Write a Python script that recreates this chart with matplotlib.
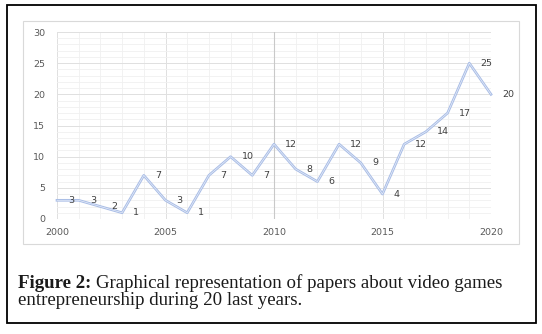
import matplotlib
matplotlib.use("Agg")
import matplotlib.pyplot as plt
from matplotlib.patches import Rectangle
from matplotlib.ticker import MultipleLocator

# --- data ---
years = list(range(2000, 2021))
papers = [3, 3, 2, 1, 7, 3, 1, 7, 10, 7, 12, 8, 6, 12, 9, 4, 12, 14, 17, 25, 20]
x_ticks = [2000, 2005, 2010, 2015, 2020]
y_ticks = [0, 5, 10, 15, 20, 25, 30]

W, H = 542, 334
fig = plt.figure(figsize=(W / 100, H / 100), dpi=100)

# pixel box helper -> figure fractions
def px_box(x0, y0, x1, y1):
    return [x0 / W, 1 - y1 / H, (x1 - x0) / W, (y1 - y0) / H]

# outer black frame and light chart frame
fig.patches.append(Rectangle((7 / W, 1 - 323 / H), 529 / W, 318 / H, transform=fig.transFigure,
                             fill=False, edgecolor="black", linewidth=1.3))
fig.patches.append(Rectangle((23 / W, 1 - 244 / H), 496 / W, 223 / H, transform=fig.transFigure,
                             fill=False, edgecolor="#d9d9d9", linewidth=0.8))

ax = fig.add_axes(px_box(57, 32, 491, 219))
ax.set_xlim(2000, 2020)
ax.set_ylim(0, 30)

# --- grid: yearly / unit minor, every 5 major ---
ax.xaxis.set_minor_locator(MultipleLocator(1))
ax.yaxis.set_minor_locator(MultipleLocator(1))
ax.grid(which="minor", color="#f0f0f0", linewidth=0.6)
ax.grid(which="major", color="#e0e0e0", linewidth=0.7)
ax.axvline(2010, color="#c9c9c9", linewidth=0.8, zorder=1)
ax.set_axisbelow(True)

for s in ax.spines.values():
    s.set_visible(False)
ax.set_xticks(x_ticks)
ax.set_yticks(y_ticks)
ax.tick_params(which="both", length=0)
ax.tick_params(axis="x", pad=6.5, labelsize=6.8, labelcolor="#595959")
ax.tick_params(axis="y", pad=8.5, labelsize=6.8, labelcolor="#595959")

# --- double-looking light blue line ---
ax.plot(years, papers, color="#a9bde6", linewidth=1.9, zorder=3, clip_on=False)
ax.plot(years, papers, color="#e8eef9", linewidth=0.5, zorder=4, clip_on=False)

for x, y in zip(years, papers):
    ax.annotate(str(y), (x, y), xytext=(8, 0), textcoords="offset points",
                ha="left", va="center", fontsize=6.8, color="#404040",
                annotation_clip=False, zorder=5)

# --- caption ---
cap = dict(fontsize=13.6, family="Liberation Serif", color="#1a1a1a", va="baseline")
head = fig.text(18 / W, 1 - 288 / H, "Figure 2:", fontweight="bold", **cap)
fig.canvas.draw()
bb = head.get_window_extent()
fig.text((bb.x1 + 5) / W, 1 - 288 / H, "Graphical representation of papers about video games", **cap)
fig.text(18 / W, 1 - 305 / H, "entrepreneurship during 20 last years.", **cap)

fig.savefig("out.png", dpi=100)
